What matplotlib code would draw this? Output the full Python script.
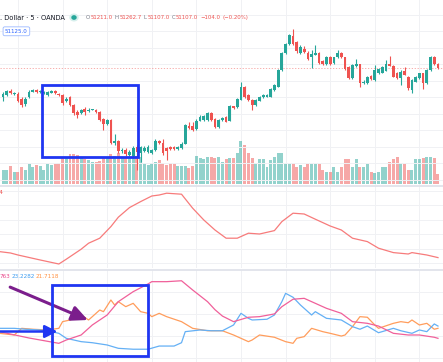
import numpy as np
import matplotlib.pyplot as plt
from matplotlib.patches import Rectangle

# ---- price candles (5 min) ----
opens = [50835,50850,50890,50865,50865,50810,50760,50830,50885,50900,
         50880,50870,50855,50875,50890,50865,50850,50790,50830,50750,
         50680,50670,50715,50695,50705,50705,50685,50610,50560,50600,
         50370,50390,50290,50300,50250,50240,50330,50275,50290,50280,
         50270,50300,50390,50375,50320,50330,50330,50315,50320,50365,
         50545,50540,50510,50595,50600,50600,50670,50610,50530,50600,
         50630,50595,50740,50730,50805,50933,50850,50800,50755,50795,
         50830,50835,50835,50900,50933,51100,51273,51360,51440,51380,
         51273,51315,51275,51230,51255,51273,51193,51160,51235,51167,
         51227,51273,51227,51130,51017,51140,51160,50967,50970,51040,
         51000,51073,51073,51095,51160,51140,51067,51017,51090,51033,
         50900,50985,51017,51067,50973,51100,51233,51160]
highs = [50880,50900,50910,50880,50880,50830,50830,50900,50915,50910,
         50905,50895,50895,50905,50900,50875,50860,50830,50840,50760,
         50700,50715,50730,50720,50715,50710,50690,50620,50615,50610,
         50460,50400,50320,50320,50300,50340,50350,50340,50345,50350,
         50310,50415,50400,50415,50330,50340,50340,50340,50385,50560,
         50580,50583,50610,50650,50650,50680,50680,50620,50610,50635,
         50640,50750,50745,50820,50980,50940,50860,50810,50810,50840,
         50860,50860,50920,50960,51110,51280,51370,51460,51515,51390,
         51350,51340,51290,51300,51350,51280,51200,51240,51245,51235,
         51300,51280,51230,51140,51160,51207,51165,51000,51040,51050,
         51150,51120,51140,51200,51240,51150,51080,51100,51133,51040,
         51010,51040,51075,51075,51110,51245,51245,51170]
lows = [50790,50840,50860,50850,50780,50735,50740,50820,50880,50870,
        50870,50860,50845,50870,50860,50840,50750,50780,50740,50650,
        50620,50660,50650,50680,50700,50675,50590,50500,50550,50360,
        50350,50270,50270,50240,50240,50220,50100,50180,50280,50270,
        50260,50290,50365,50250,50200,50300,50305,50305,50310,50360,
        50510,50495,50500,50590,50590,50590,50590,50520,50520,50590,
        50580,50590,50710,50720,50800,50820,50790,50700,50740,50790,
        50820,50830,50830,50890,50930,51090,51260,51350,51350,51270,
        51260,51270,51200,51117,51250,51160,51150,51150,51150,51160,
        51220,51220,51105,51010,51010,51130,50933,50960,50960,51000,
        50990,51065,51070,51090,51140,51030,51010,50950,51050,50900,
        50867,50980,51010,50907,50965,51090,51150,51110]
closes = [50865,50890,50870,50870,50795,50750,50815,50880,50900,50880,
          50895,50885,50885,50890,50870,50850,50770,50815,50750,50670,
          50650,50705,50685,50705,50710,50685,50600,50560,50605,50370,
          50390,50290,50300,50260,50280,50320,50280,50330,50320,50330,
          50300,50390,50375,50270,50290,50310,50315,50330,50360,50550,
          50520,50505,50595,50635,50640,50670,50600,50530,50600,50625,
          50585,50740,50717,50810,50933,50830,50800,50755,50800,50833,
          50855,50850,50915,50950,51100,51270,51360,51450,51360,51290,
          51330,51280,51215,51260,51275,51170,51160,51227,51160,51227,
          51273,51227,51115,51017,51150,51160,50967,50983,51033,51010,
          51100,51107,51133,51160,51145,51033,51017,51083,51055,50920,
          51000,51027,51067,50973,51100,51233,51160,51117]
volumes = [140,140,180,123,123,167,140,200,167,190,
           180,140,200,190,200,213,257,257,300,300,
           290,257,247,240,223,223,233,257,273,300,
           280,307,257,267,257,280,280,267,207,190,
           207,223,240,207,190,207,200,180,180,180,
           157,180,280,257,247,267,267,257,267,223,
           247,257,257,307,433,390,313,257,207,247,
           247,173,240,273,307,307,200,200,207,173,
           190,173,200,200,200,200,140,123,123,173,
           123,173,247,247,173,247,173,173,200,123,
           113,123,173,173,223,247,273,213,200,140,
           140,247,247,257,267,273,257,100]

# ---- pane 2 line ----
adx_x = [-1,2,4,10,15,17,21,23,26,29,31,34,37,40,42,44,48,51,54,57,
         60,63,66,69,73,75,78,81,84,88,91,94,98,101,105,109,110,114,117]
adx_v = [19.2,18.5,17.5,15.0,13.0,15.4,20.4,23.4,25.9,31.7,36.4,41.2,44.2,47.0,47.5,48.4,47.9,40.9,35.0,30.0,
         25.9,25.9,28.4,28.0,29.7,34.2,38.4,38.0,35.4,32.0,30.0,25.9,24.2,20.9,18.7,18.0,18.7,17.5,16.2]

# ---- pane 3 DMI ----
pink_x = [-1,7,15,17,21,24,28,31,35,39,40,44,48,51,55,57,59,62,66,69,73,75,78,81,83,87,91,94,98,101,105,109,112,116,117]
pink_v = [19.5,15.3,11.8,14.0,17.3,23.9,30.5,39.3,45.9,51.0,52.5,52.5,53.1,47.0,39.3,34.0,29.8,26.1,29.0,29.4,
          31.2,36.0,40.9,41.5,39.3,34.9,31.6,26.1,25.0,23.2,18.4,17.3,17.3,15.8,15.1]
blue_x = [-1,3,6,10,13,15,17,21,24,28,31,35,39,42,46,48,49,53,56,59,
          62,64,66,67,71,73,75,76,78,80,83,84,87,91,94,96,98,101,105,107,110,112,114,116,117]
blue_v = [21.7,21.7,21.1,20.6,19.5,18.4,15.1,12.9,12.2,10.7,8.5,7.9,7.9,10.0,10.0,12.2,19.5,20.6,20.1,20.1,
          23.9,31.6,28.3,27.2,27.7,30.5,39.3,44.8,42.2,37.1,30.5,32.7,28.3,27.2,22.8,21.1,23.2,18.8,21.7,20.1,
          18.4,20.6,19.5,24.6,23.2]
orange_x = [-1,3,5,8,12,15,16,18,21,23,26,27,29,30,31,33,35,37,39,40,
            42,44,48,51,55,59,62,66,67,69,73,76,78,79,81,83,86,88,91,92,
            94,96,98,100,101,105,107,109,110,112,114,116,117]
orange_v = [18.4,17.3,21.7,21.1,20.6,21.7,26.1,27.2,30.5,27.2,33.8,32.7,40.4,37.1,39.3,36.0,38.2,32.7,31.6,29.4,
            31.6,29.4,26.1,21.7,20.1,20.1,17.3,12.9,14.0,17.3,15.8,12.9,11.8,15.1,16.2,21.7,19.5,18.4,16.6,17.3,
            22.8,29.4,29.0,23.9,21.7,25.0,26.1,25.4,27.2,23.9,25.0,21.1,21.7]

TEAL, RED = '#26a69a', '#ef5350'
BLUE = '#1f36f2'
PURPLE = '#7b1e8c'
GRID = '#f0f1f4'

W, H = 443, 362
fig = plt.figure(figsize=(W/100, H/100), dpi=100)

def pane(top, bottom):
    return fig.add_axes([0, 1 - bottom/H, 1, (bottom - top)/H])

axv = pane(0, 185)
ax = axv.twinx()
ax2 = pane(186, 268)
ax3 = pane(270, 362)

XL = (-0.834, 118.35)
idx = np.arange(len(closes))
o = np.array(opens); c = np.array(closes)
up = c >= o
col = np.where(up, TEAL, RED)

# volume
axv.bar(idx, volumes, 0.8, color=col, alpha=0.5, lw=0)
axv.set_ylim(-10, 1840)

# candles
ax.vlines(idx, lows, highs, colors=col, lw=0.8, zorder=3)
ax.bar(idx, np.maximum(np.abs(c - o), 8), 0.74, bottom=np.minimum(o, c), color=col, lw=0, zorder=4)
ax.set_ylim(49950, 51800)
ax.axhline(closes[-1], color=RED, lw=0.6, ls=(0, (1.5, 2)), alpha=0.55, zorder=2)
for p in np.arange(50005, 51800, 165):
    ax.axhline(p, color=GRID, lw=0.7, zorder=0)

ax2.plot(adx_x, adx_v, color='#f77b7b', lw=0.9)
ax2.set_ylim(11, 52)
for p in np.arange(13.5, 52, 7.2):
    ax2.axhline(p, color=GRID, lw=0.7, zorder=0)

ax3.plot(orange_x, orange_v, color='#ff9d5c', lw=0.9, zorder=3)
ax3.plot(blue_x, blue_v, color='#64b0f5', lw=0.9, zorder=3)
ax3.plot(pink_x, pink_v, color='#f0609a', lw=0.9, zorder=3)
ax3.set_ylim(-0.53, 60.2)
for p in np.arange(2.1, 60, 14.5):
    ax3.axhline(p, color=GRID, lw=0.7, zorder=0)

for a in (axv, ax, ax2, ax3):
    a.set_xlim(*XL)
    a.set_xticks([]); a.set_yticks([])
    for s in a.spines.values():
        s.set_visible(False)
for a in (axv, ax2, ax3):
    for g in range(4, 118, 12):
        a.axvline(g, color=GRID, lw=0.7, zorder=0)
for a in (ax2, ax3):
    a.spines['top'].set_visible(True)
    a.spines['top'].set_color('#e0e3eb')
    a.spines['top'].set_linewidth(1.3)

# highlight boxes and arrows
box1 = (10.6, 36.4, 50233, 50950)
ax.add_patch(Rectangle((box1[0], box1[2]), box1[1] - box1[0], box1[3] - box1[2],
                       fill=False, ec=BLUE, lw=2.0, zorder=6))
box2 = (13.2, 39.1, 3.4, 50.3)
ax3.add_patch(Rectangle((box2[0], box2[2]), box2[1] - box2[0], box2[3] - box2[2],
                        fill=False, ec=BLUE, lw=2.0, zorder=6))
ax3.annotate('', xy=(14.6, 19.6), xytext=(-1.0, 19.6),
             arrowprops=dict(arrowstyle='-|>,head_length=0.75,head_width=0.38',
                             color=BLUE, lw=1.8, shrinkA=0, shrinkB=0))
ax3.annotate('', xy=(22.8, 27.2), xytext=(1.9, 48.9),
             arrowprops=dict(arrowstyle='-|>,head_length=0.95,head_width=0.45',
                             color=PURPLE, lw=2.2, shrinkA=0, shrinkB=0))

# header texts
def ftext(x, y, s, **kw):
    return fig.text(x / W, 1 - y / H, s, va='center', ha='left', **kw)

ftext(0, 17.5, '. Dollar · 5 · OANDA', color='#131722', fontsize=4.8)
fig.add_artist(plt.Circle((74 / W, 1 - 17.5 / H), 4.0 / W, transform=fig.transFigure,
                          color='#d5efec', zorder=5))
fig.add_artist(plt.Circle((74 / W, 1 - 17.5 / H), 2.0 / W, transform=fig.transFigure,
                          color=TEAL, zorder=6))
fig.canvas.draw()
rend = fig.canvas.get_renderer()
parts = [('O', '#787b86'), ('51211.0', RED), ('H', '#787b86'), ('51262.7', RED),
         ('L', '#787b86'), ('51107.0', RED), ('C', '#787b86'), ('51107.0', RED),
         ('−104.0', RED), ('(−0.20%)', RED)]
x = 86
for k, (s, cc) in enumerate(parts):
    t = ftext(x, 17.5, s, color=cc, fontsize=3.9)
    x += t.get_window_extent(renderer=rend).width + (0.5 if k % 2 == 0 and k < 8 else 2.2)

fig.text(16.4 / W, 1 - 31.3 / H, '51125.0', color='#2962ff', fontsize=4.0, ha='center', va='center',
         bbox=dict(boxstyle='round,pad=0.35,rounding_size=0.3', fc='white', ec='#9ab8ff', lw=0.6))

ftext(-1, 192, '4', color=RED, fontsize=4.5)
ftext(0, 277, '763', color='#e9468a', fontsize=4.1)
ftext(11.5, 277, '23.2282', color='#3d9cf0', fontsize=4.1)
ftext(36, 277, '21.7118', color='#ff9040', fontsize=4.1)

fig.savefig('out.png', dpi=100, facecolor='white')
